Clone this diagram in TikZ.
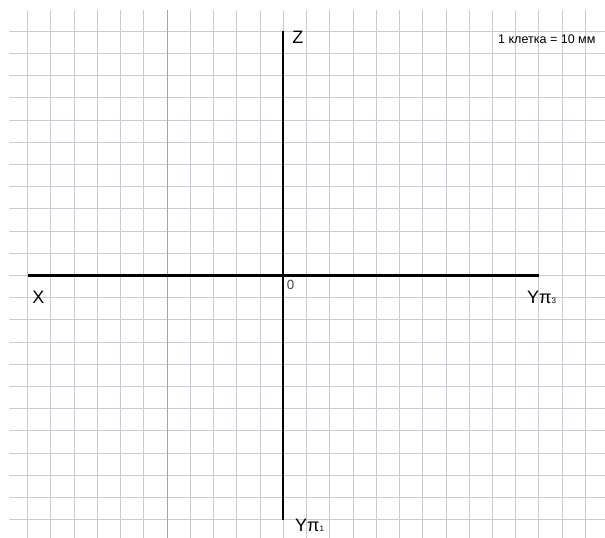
\documentclass[tikz,border=0pt]{standalone}
\usepackage{fontspec}
\setmainfont{Liberation Sans}
\usetikzlibrary{positioning}
\definecolor{gridgray}{RGB}{202,202,210}
\definecolor{gridgreen}{RGB}{125,190,125}
\definecolor{zerogray}{RGB}{80,70,60}

\begin{document}
\begin{tikzpicture}[x=17.43pt,y=16.65pt,
  gridline/.style={line width=0.75pt,gridgray},
  axis/.style={line width=1.6pt,black},
  axlabel/.style={font=\fontsize{13.5}{14}\selectfont,inner sep=0pt,anchor=base west}]
\useasboundingbox[fill=white] (-12.19,-11.82) rectangle (13.84,12.41);
% grid, 1 cell = 10 mm
\foreach \x in {-11,...,13} \draw[gridline] (\x,-11.82)--(\x,11.96);
\foreach \y in {-11,...,11} \draw[gridline] (-11.8,\y)--(13.84,\y);
\draw[line width=0.9pt,gridgreen] (-5,-11.82)--(-5,11.96);
% axes
\coordinate (O) at (0,0);
\coordinate (xl) at (-11,0);
\coordinate (xr) at (11,0);
\coordinate (zt) at (0,11);
\coordinate (zb) at (0,-11);
\draw[axis] (xl)--(xr);
\draw[axis] (zt)--(zb);
\node[axlabel] (z) at (0.38,10.43) {Z};
\node[axlabel] (x) at (-10.81,-1.28) {X};
\node[axlabel,font=\fontsize{10}{10}\selectfont,zerogray] (zero) at (0.14,-0.61) {0};
\node[axlabel] (y3) at (10.48,-1.28) {Yπ{\fontsize{6}{6}\selectfont 3}};
\node[axlabel] (y1) at (0.5,-11.51) {Yπ{\fontsize{6}{6}\selectfont 1}};
\node[axlabel,font=\fontsize{9.4}{10}\selectfont] (scale) at (9.23,10.47) {1 клетка = 10 мм};
\end{tikzpicture}
\end{document}
